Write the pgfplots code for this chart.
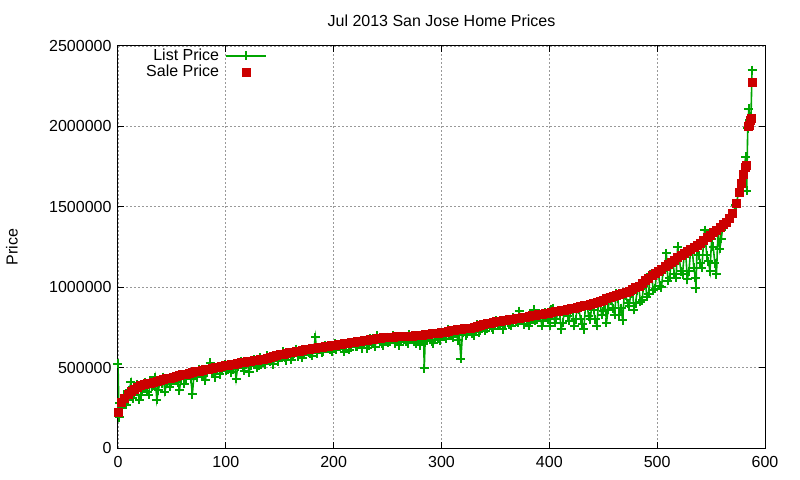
\documentclass[border=0pt]{standalone}
\usepackage{pgfplots}
\pgfplotsset{compat=1.18}
\usepackage{pgfplotstable}
\usepackage{fontspec}
\setmainfont{Liberation Sans}
\definecolor{lgreen}{RGB}{0,165,0}
\definecolor{sred}{RGB}{204,0,0}

\pgfplotstableread{
i v
0 220
3 285
6 310
9 335
12 355
15 368
18 378
21 388
24 396
27 401
30 405
33 410
36 416
39 421
42 426
45 431
48 436
51 441
54 446
57 451
60 456
63 461
66 466
69 471
72 476
75 480
78 484
81 488
84 492
87 496
90 500
93 504
96 508
99 512
102 515
105 519
108 523
111 528
114 532
117 536
120 539
123 542
126 545
129 547
132 550
135 555
138 560
141 566
144 571
147 577
150 581
153 585
156 589
159 593
162 597
165 600
168 604
171 608
174 612
177 616
180 619
183 622
186 625
189 628
192 632
195 635
198 638
201 641
204 644
207 647
210 650
213 653
216 657
219 660
222 663
225 666
228 669
231 672
234 675
237 678
240 681
243 684
246 687
249 690
252 691
255 692
258 693
261 694
264 695
267 696
270 697
273 698
276 699
279 701
282 703
285 705
288 708
291 711
294 714
297 717
300 720
303 723
306 727
309 730
312 733
315 736
318 739
321 742
324 745
327 748
330 754
333 760
336 765
339 770
342 775
345 779
348 783
351 787
354 790
357 794
360 797
363 800
366 803
369 806
372 808
375 812
378 816
381 820
384 824
387 828
390 832
393 835
396 838
399 841
402 845
405 848
408 852
411 856
414 860
417 864
420 868
423 872
426 876
429 880
432 885
435 890
438 896
441 902
444 908
447 915
450 922
453 930
456 940
459 946
462 952
465 958
468 964
471 970
474 978
477 988
480 998
483 1008
486 1025
489 1042
492 1058
495 1072
498 1088
501 1102
504 1115
507 1128
510 1142
513 1155
516 1170
519 1185
522 1198
525 1211
528 1224
531 1237
534 1250
537 1262
540 1276
543 1292
546 1308
549 1324
552 1340
555 1357
558 1373
561 1390
564 1407
567 1430
570 1460
573 1521
576 1590
578 1646
580 1700
582 1749
583 1760
584 2000
585 2005
586 2040
587 2050
588 2275
}\saledata

\pgfplotstableread{
i v
0 525
1 190
1.5 280
3 250
4.5 300
6 330
7.5 270
9 300
10.5 360
12 410
13.5 310
15 340
16.5 380
18 395
19.5 300
21 330
22.5 360
24 385
25.5 410
27 350
28.5 330
30 420
31.5 380
33 390
34.5 440
36 300
37.5 360
39 415
40.5 400
42 440
43.5 350
45 405
46.5 420
48 380
49.5 400
51 445
52.5 430
54 420
55.5 410
57 360
58.5 440
60 455
61.5 400
63 430
64.5 455
66 470
67.5 430
69 335
70.5 460
72 450
73.5 440
75 490
76.5 470
78 460
79.5 450
81 420
82.5 480
84 500
85.5 530
87 470
88.5 470
90 440
91.5 490
93 505
94.5 460
96 480
97.5 500
99 520
100.5 480
102 490
103.5 510
105 470
106.5 490
108 525
109.5 430
111 505
112.5 520
114 540
115.5 500
117 480
118.5 520
120 530
121.5 470
123 510
124.5 530
126 550
127.5 540
129 500
130.5 510
132 560
133.5 545
135 530
136.5 520
138 575
139.5 560
141 540
142.5 550
144 520
145.5 560
147 580
148.5 540
150 560
151.5 575
153 600
154.5 560
156 545
157.5 585
159 590
160.5 550
162 570
163.5 590
165 615
166.5 570
168 580
169.5 600
171 560
172.5 580
174 600
175.5 610
177 620
178.5 590
180 575
181.5 610
183 690
184.5 590
186 610
187.5 620
189 595
190.5 600
192 640
193.5 625
195 620
196.5 610
198 600
199.5 630
201 650
202.5 610
204 630
205.5 640
207 640
208.5 620
210 600
211.5 645
213 655
214.5 610
216 625
217.5 650
219 660
220.5 630
222 630
223.5 655
225 670
226.5 620
228 645
229.5 660
231 620
232.5 640
234 680
235.5 665
237 650
238.5 630
240 700
241.5 675
243 660
244.5 650
246 640
247.5 680
249 690
250.5 655
252 660
253.5 685
255 700
256.5 650
258 670
259.5 680
261 640
262.5 660
264 690
265.5 690
267 660
268.5 650
270 705
271.5 690
273 680
274.5 665
276 650
277.5 690
279 700
280.5 640
282 670
283.5 680
284 496
285 700
286.5 670
288 690
289.5 700
291 665
292.5 650
294 715
295.5 700
297 680
298.5 670
300 720
301.5 710
303 695
304.5 680
306 740
307.5 720
309 700
310.5 690
312 725
313.5 730
315 670
316.5 700
318 555
319.5 720
321 740
322.5 700
324 715
325.5 735
327 750
328.5 710
330 700
331.5 750
333 765
334.5 720
336 730
337.5 760
339 770
340.5 730
342 745
343.5 770
345 780
346.5 750
348 740
349.5 780
351 790
352.5 760
354 765
355.5 785
357 740
358.5 770
360 800
361.5 790
363 770
364.5 760
366 810
367.5 800
369 785
370.5 780
372 850
373.5 800
375 790
376.5 770
378 820
379.5 810
381 760
382.5 780
384 830
385.5 860
387 790
388.5 800
390 835
391.5 830
393 760
394.5 790
396 840
397.5 830
399 800
400.5 760
402 860
403.5 870
405 780
406.5 800
408 850
409.5 840
411 740
412.5 780
414 860
415.5 850
417 820
418.5 790
420 870
421.5 860
423 760
424.5 800
426 880
427.5 860
429 800
430.5 770
432 740
433.5 880
435 890
436.5 820
438 800
439.5 900
441 860
442.5 800
444 760
445.5 890
447 910
448.5 830
450 850
451.5 920
453 780
454.5 860
456 940
457.5 920
459 870
460.5 830
462 960
463.5 930
465 830
466.5 870
468 795
469.5 960
471 950
472.5 900
474 880
475.5 960
477 990
478.5 860
480 900
481.5 980
483 1000
484.5 910
486 920
487.5 1010
489 1030
490.5 940
492 960
493.5 1080
495 1060
496.5 980
498 990
499.5 1090
501 1100
502.5 1010
504 1000
505.5 1100
507 1120
508.5 1210
510 1040
511.5 1060
513 1150
514.5 1160
516 1080
517.5 1060
519 1250
520.5 1180
522 1100
523.5 1080
525 1200
526.5 1210
528 1050
529.5 1100
531 1230
532.5 1240
534 1120
535.5 1060
536 995
537 1250
538.5 1200
540 1150
541.5 1120
543 1280
544 1355
546 1200
547.5 1160
549 1100
550.5 1300
552 1250
553.5 1150
555 1080
556.5 1360
558 1240
559.5 1300
561 1390
562.5 1380
564 1400
565.5 1410
567 1425
570 1455
573 1510
576 1600
578 1650
580 1690
582 1810
583 1600
584 1990
585 2110
586 2040
587 2060
588 2350
}\listdata

\begin{document}
\begin{tikzpicture}[font=\fontsize{16bp}{19bp}\selectfont]
\path[use as bounding box] (-118bp,-32bp) rectangle (682bp,448bp);
\begin{axis}[
  at={(0,0)}, anchor=south west,
  scale only axis,
  width=647bp, height=402bp,
  xmin=0, xmax=600, ymin=0, ymax=2500000,
  xtick={0,100,...,600},
  ytick={0,500000,...,2500000},
  scaled y ticks=false,
  scaled x ticks=false,
  /pgf/number format/assume math mode=true,
  yticklabel style={/pgf/number format/fixed,/pgf/number format/1000 sep={}, xshift=-3bp},
  xticklabel style={/pgf/number format/1000 sep={}, yshift=-5bp},
  tick align=inside,
  major tick length=6bp,
  xtick pos=both, ytick pos=both,
  grid=major,
  major grid style={draw=gray!80, line width=0.7bp, dash pattern=on 2bp off 2bp},
  axis line style={line width=1bp},
  tick style={line width=1bp, black},
  title={Jul 2013 San Jose Home Prices},
  title style={at={(0.5,1)}, anchor=south, yshift=10bp},
  ylabel={Price},
  ylabel style={at={(rel axis cs:0,0.5)}, anchor=center, yshift=106bp},
  legend plot pos=right,
  legend cell align=right,
  legend style={at={(rel axis cs:0.232,1.0)}, anchor=north east, draw=none, fill=none,
    row sep=-1bp, inner sep=1bp, font=\fontsize{16bp}{16bp}\selectfont},
  legend image code/.code={%
    \path[draw=none,fill=none] (0bp,0bp) -- (45bp,0bp);
    \draw[mark repeat=2,mark phase=2,#1] plot coordinates {(5bp,0bp) (25bp,0bp) (45bp,0bp)};},
]
\addplot[color=lgreen, line width=1.6bp, mark=+, mark size=4.5bp, mark options={line width=2bp}]
  table[x=i, y expr=\thisrow{v}*1000] {\listdata};
\addlegendentry{List Price}
\addplot[only marks, color=sred, mark=square*, mark size=4bp]
  table[x=i, y expr=\thisrow{v}*1000] {\saledata};
\addlegendentry{Sale Price}
\end{axis}
\end{tikzpicture}
\end{document}
